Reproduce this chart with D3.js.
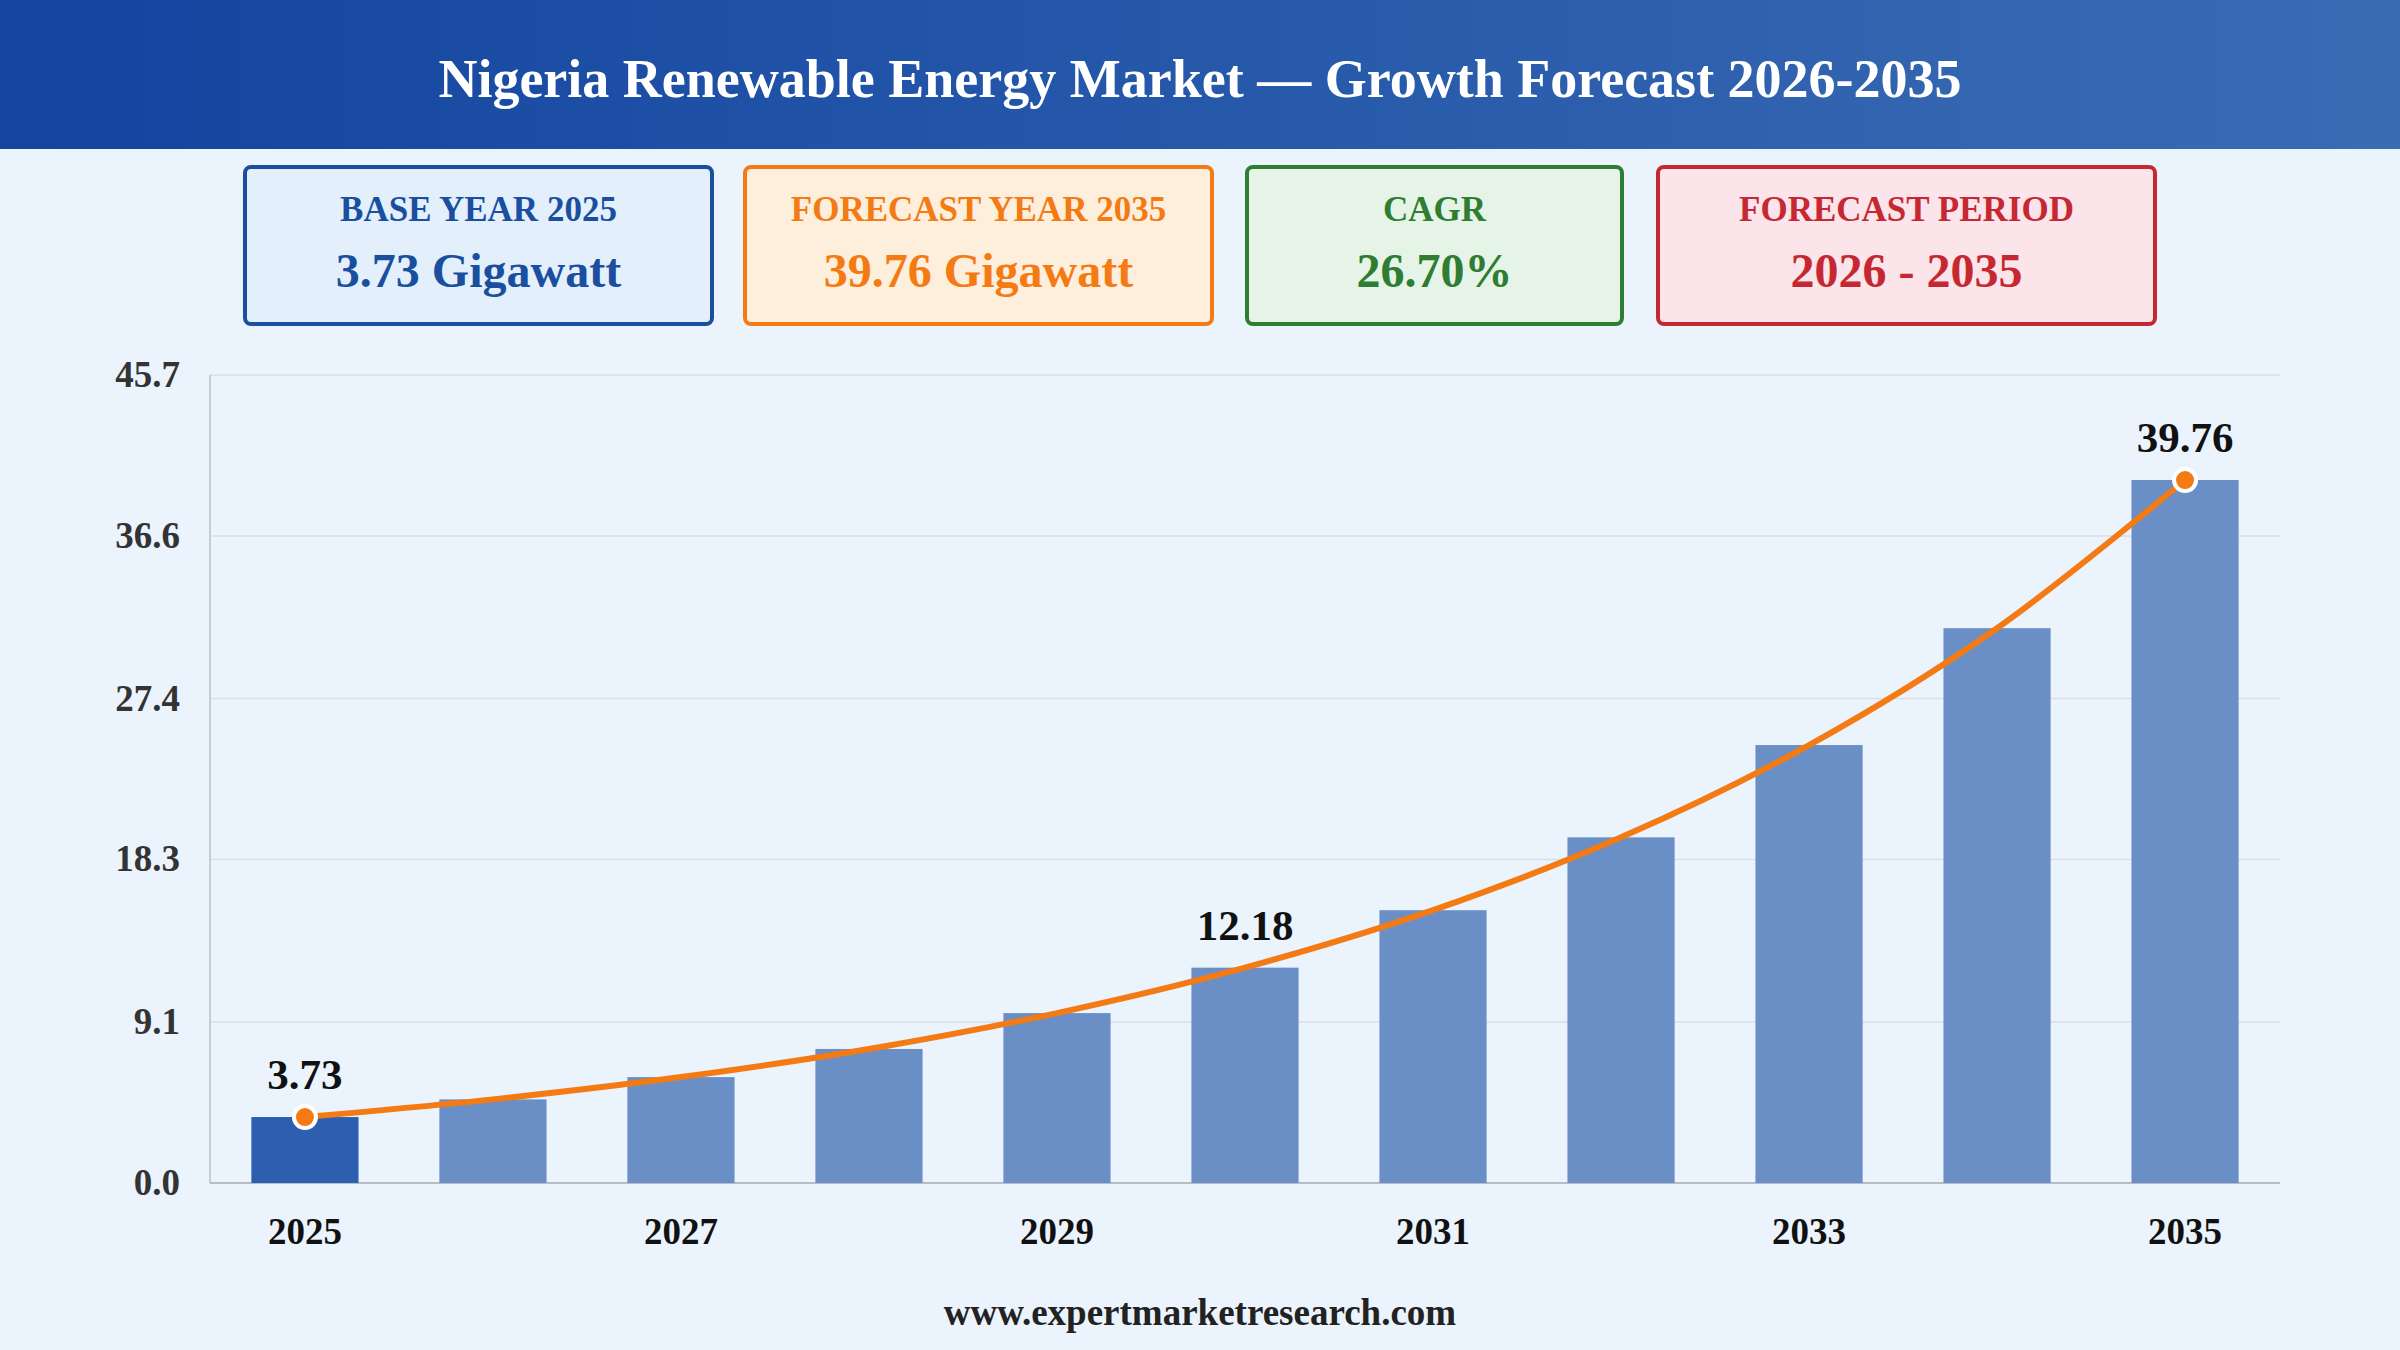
<!DOCTYPE html>
<html><head><meta charset="utf-8">
<script src="https://cdn.jsdelivr.net/npm/d3@7"></script>
<style>body{margin:0;background:#ebf3fc;} text{font-family:"Liberation Serif",serif;}</style>
</head><body>
<svg id="chart" width="2400" height="1350"></svg>
<script>
var years = [2025,2026,2027,2028,2029,2030,2031,2032,2033,2034,2035];
var values = [3.73,4.73,5.99,7.58,9.61,12.18,15.43,19.55,24.77,31.38,39.76];
var yTicks = [0,9.1,18.3,27.4,36.6,45.7];
var labelled = [2025,2030,2035];
var cards = [
  {title:"BASE YEAR 2025", value:"3.73 Gigawatt", color:"#1a4fa0", fill:"#e3f0fc", x:245, w:467},
  {title:"FORECAST YEAR 2035", value:"39.76 Gigawatt", color:"#f47a13", fill:"#fdefdc", x:745, w:467},
  {title:"CAGR", value:"26.70%", color:"#2e7d32", fill:"#e5f4e6", x:1247, w:375},
  {title:"FORECAST PERIOD", value:"2026 - 2035", color:"#c62832", fill:"#fbe4ea", x:1658, w:497}
];

var svg = d3.select("#chart");
var defs = svg.append("defs");
var grad = defs.append("linearGradient").attr("id","hdr");
grad.append("stop").attr("offset","0%").attr("stop-color","#1244a0");
grad.append("stop").attr("offset","100%").attr("stop-color","#3a6cb4");
svg.append("rect").attr("width",2400).attr("height",1350).attr("fill","#ebf3fc");
svg.append("rect").attr("width",2400).attr("height",149).attr("fill","url(#hdr)");
svg.append("text").attr("x",1200).attr("y",97).attr("text-anchor","middle")
  .attr("fill","#fff").attr("font-size",54).attr("font-weight","bold")
  .text("Nigeria Renewable Energy Market \u2014 Growth Forecast 2026-2035");

// cards
cards.forEach(function(c){
  svg.append("rect").attr("x",c.x).attr("y",167).attr("width",c.w).attr("height",157)
    .attr("rx",6).attr("fill",c.fill).attr("stroke",c.color).attr("stroke-width",4);
  svg.append("text").attr("x",c.x+c.w/2).attr("y",221).attr("text-anchor","middle")
    .attr("fill",c.color).attr("font-size",35).attr("font-weight","bold").text(c.title);
  svg.append("text").attr("x",c.x+c.w/2).attr("y",287).attr("text-anchor","middle")
    .attr("fill",c.color).attr("font-size",48).attr("font-weight","bold").text(c.value);
});

var pLeft = 210, pRight = 2280, pTop = 375, pBottom = 1183;
var x = d3.scaleBand().domain(years).range([pLeft, pRight]).paddingInner(0.43).paddingOuter(0.22);
var y = d3.scaleLinear().domain([0,45.7]).range([pBottom, pTop]);

// grid
svg.append("g").selectAll("line").data(yTicks.slice(1)).enter().append("line")
  .attr("x1",pLeft).attr("x2",pRight).attr("y1",d=>y(d)).attr("y2",d=>y(d))
  .attr("stroke","#d8dee8").attr("stroke-width",1.5);
svg.append("line").attr("x1",pLeft).attr("x2",pLeft).attr("y1",pTop).attr("y2",pBottom).attr("stroke","#c8ccd4").attr("stroke-width",2);
svg.append("line").attr("x1",pLeft).attr("x2",pRight).attr("y1",pBottom).attr("y2",pBottom).attr("stroke","#b8bcc4").attr("stroke-width",2);

svg.append("g").selectAll("text").data(yTicks).enter().append("text")
  .attr("x",180).attr("y",d=>y(d)+12).attr("text-anchor","end")
  .attr("font-size",37).attr("font-weight","bold").attr("fill","#333")
  .text(d=>d.toFixed(1));

// bars
svg.append("g").selectAll("rect").data(years).enter().append("rect")
  .attr("x",d=>x(d)).attr("width",x.bandwidth())
  .attr("y",(d,i)=>y(values[i])).attr("height",(d,i)=>pBottom-y(values[i]))
  .attr("fill",(d,i)=>i===0?"#2d5fb0":"#6a8fc6");

svg.append("g").selectAll("text").data(years.filter((d,i)=>i%2===0)).enter().append("text")
  .attr("x",d=>x(d)+x.bandwidth()/2).attr("y",1244).attr("text-anchor","middle")
  .attr("font-size",37).attr("font-weight","bold").attr("fill","#111").text(d=>d);

// line
var cx = d=>x(d)+x.bandwidth()/2;
var line = d3.line().x(d=>cx(d)).y((d,i)=>y(values[i])).curve(d3.curveCatmullRom);
svg.append("path").datum(years).attr("d",line).attr("fill","none")
  .attr("stroke","#f47a13").attr("stroke-width",6);
[0,10].forEach(function(i){
  svg.append("circle").attr("cx",cx(years[i])).attr("cy",y(values[i])).attr("r",11)
    .attr("fill","#f47a13").attr("stroke","#fff").attr("stroke-width",4);
});
labelled.forEach(function(yr){
  var i = years.indexOf(yr);
  svg.append("text").attr("x",cx(yr)).attr("y",y(values[i])-28).attr("text-anchor","middle")
    .attr("font-size",43).attr("font-weight","bold").attr("fill","#111").text(values[i].toFixed(2));
});

svg.append("text").attr("x",1200).attr("y",1325).attr("text-anchor","middle")
  .attr("font-size",37).attr("font-weight","bold").attr("fill","#222").text("www.expertmarketresearch.com");
</script>
</body></html>
